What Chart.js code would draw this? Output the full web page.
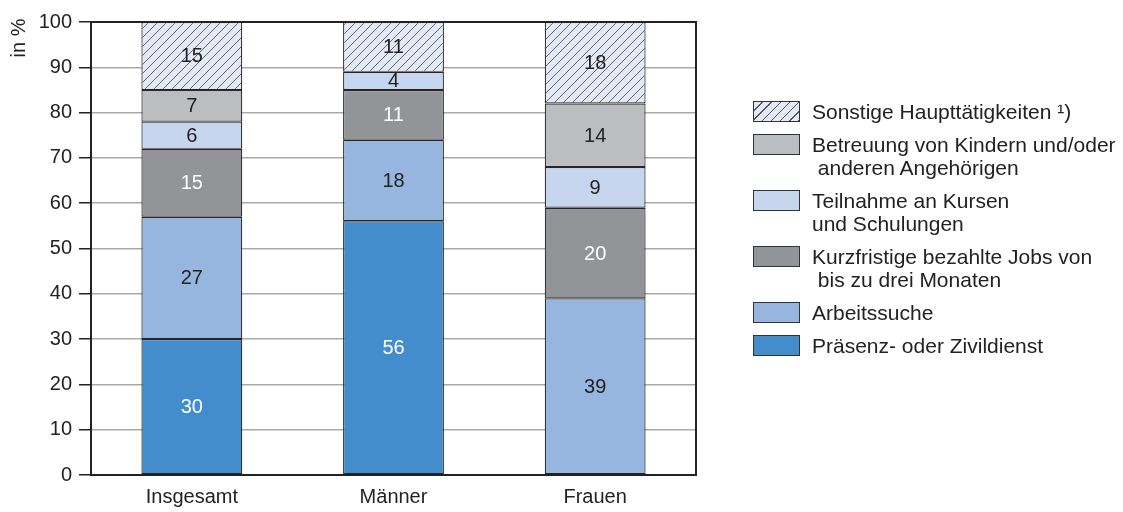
<!DOCTYPE html>
<html lang="de">
<head>
<meta charset="UTF-8">
<title>Haupttätigkeiten</title>
<script src="https://cdn.jsdelivr.net/npm/chart.js@4.4.1/dist/chart.umd.min.js"></script>
<style>
  body { margin: 0; background: #fff; font-family: "Liberation Sans", Arial, sans-serif; }
  #wrap { position: relative; width: 1123px; height: 512px; }
  #legend { position: absolute; left: 753px; top: 100px; color: #222; font-size: 21px; line-height: 23px; }
  .item { display: flex; align-items: flex-start; margin-bottom: 10px; }
  .box { width: 45px; height: 19px; border: 1.5px solid #333; margin-top: 0.5px; flex: none; }
  .txt { margin-left: 12px; white-space: pre; }
</style>
</head>
<body>
<div id="wrap">
  <canvas id="chart"></canvas>
  <div id="legend"></div>
</div>
<script>
const categories = ['Insgesamt', 'Männer', 'Frauen'];

// Anteile je Haupttätigkeit, von unten nach oben gestapelt
const praesenz     = [30, 56, null];
const arbeitssuche = [27, 18, 39];
const jobs         = [15, 11, 20];
const kurse        = [6, 4, 9];
const betreuung    = [7, null, 14];
const sonstige     = [15, 11, 18];

const seriesLabels = [
  ['Präsenz- oder Zivildienst'],
  ['Arbeitssuche'],
  ['Kurzfristige bezahlte Jobs von', ' bis zu drei Monaten'],
  ['Teilnahme an Kursen', 'und Schulungen'],
  ['Betreuung von Kindern und/oder', ' anderen Angehörigen'],
  ['Sonstige Haupttätigkeiten ¹)']
];
const seriesData = [praesenz, arbeitssuche, jobs, kurse, betreuung, sonstige];
const seriesColors = ['#448dcc', '#96b6df', '#939497', '#c6d6ef', '#bcbdc0', '#e3e9f6'];
const labelColors = ['#fff', '#222', '#fff', '#222', '#222', '#222'];

const yTicks = { min: 0, max: 100, step: 10 };

// Schraffur für "Sonstige"
function hatch(bg) {
  const c = document.createElement('canvas');
  c.width = 9; c.height = 9;
  const g = c.getContext('2d');
  g.fillStyle = bg;
  g.fillRect(0, 0, 9, 9);
  g.strokeStyle = '#555';
  g.lineWidth = 0.9;
  g.beginPath();
  g.moveTo(0, 9); g.lineTo(9, 0);
  g.moveTo(-1, 1); g.lineTo(1, -1);
  g.moveTo(8, 10); g.lineTo(10, 8);
  g.stroke();
  return g.createPattern(c, 'repeat');
}

const ctx = document.getElementById('chart').getContext('2d');

const datasets = seriesData.map((d, i) => ({
  label: seriesLabels[i].join(' '),
  data: d,
  backgroundColor: i === 5 ? hatch(seriesColors[i]) : seriesColors[i],
  borderColor: '#262626',
  borderWidth: 1.2,
  borderSkipped: false,
  barPercentage: 0.5,
  categoryPercentage: 1.0
}));

const valueLabels = {
  id: 'valueLabels',
  afterDatasetsDraw(chart) {
    const c = chart.ctx;
    c.save();
    c.font = '20px "Liberation Sans", Arial, sans-serif';
    c.textAlign = 'center';
    c.textBaseline = 'middle';
    chart.data.datasets.forEach((ds, i) => {
      chart.getDatasetMeta(i).data.forEach((bar, j) => {
        const v = ds.data[j];
        if (v == null) return;
        const p = bar.getProps(['x', 'y', 'base'], true);
        c.fillStyle = labelColors[i];
        c.fillText(String(v), p.x, (p.y + p.base) / 2 + 1);
      });
    });
    c.restore();
  }
};

const frame = {
  id: 'frame',
  afterDraw(chart) {
    const a = chart.chartArea;
    const c = chart.ctx;
    c.save();
    c.strokeStyle = '#222';
    c.lineWidth = 2;
    c.beginPath();
    c.moveTo(a.left, a.top);
    c.lineTo(a.right, a.top);
    c.lineTo(a.right, a.bottom);
    c.stroke();
    // Achsentitel
    c.translate(19, 38);
    c.rotate(-Math.PI / 2);
    c.font = '20px "Liberation Sans", Arial, sans-serif';
    c.fillStyle = '#222';
    c.textAlign = 'center';
    c.textBaseline = 'middle';
    c.fillText('in %', 0, 0);
    c.restore();
  }
};

new Chart(ctx, {
  type: 'bar',
  data: { labels: categories, datasets: datasets },
  options: {
    responsive: true,
    maintainAspectRatio: false,
    animation: false,
    layout: { padding: { left: 0, top: 22, right: 427, bottom: 0 } },
    plugins: { legend: { display: false }, tooltip: { enabled: false } },
    scales: {
      x: {
        stacked: true,
        grid: { display: false, drawTicks: false },
        border: { display: true, color: '#222', width: 2 },
        ticks: { color: '#222', padding: 10, font: { family: '"Liberation Sans", Arial, sans-serif', size: 20 } },
        afterFit(s) { s.height = 37; }
      },
      y: {
        stacked: true,
        min: yTicks.min,
        max: yTicks.max,
        grid: {
          color: c => c.tick && c.tick.value === 100 ? '#222' : '#a9a9a9',
          lineWidth: 1.5,
          tickColor: '#222',
          tickLength: 12
        },
        border: { display: true, color: '#222', width: 2 },
        ticks: {
          stepSize: yTicks.step,
          color: '#222',
          padding: 7,
          font: { family: '"Liberation Sans", Arial, sans-serif', size: 20 }
        },
        afterFit(s) { s.width = 91; }
      }
    }
  },
  plugins: [valueLabels, frame]
});

// Legende: oberster Stapelteil zuerst
const legend = document.getElementById('legend');
for (let i = seriesLabels.length - 1; i >= 0; i--) {
  const item = document.createElement('div');
  item.className = 'item';
  const box = document.createElement('div');
  box.className = 'box';
  box.style.background = i === 5
    ? 'repeating-linear-gradient(135deg, #e3e9f6 0 5.5px, #555 5.5px 6.5px)'
    : seriesColors[i];
  const txt = document.createElement('div');
  txt.className = 'txt';
  txt.textContent = seriesLabels[i].join('\n');
  item.appendChild(box);
  item.appendChild(txt);
  legend.appendChild(item);
}
</script>
</body>
</html>
